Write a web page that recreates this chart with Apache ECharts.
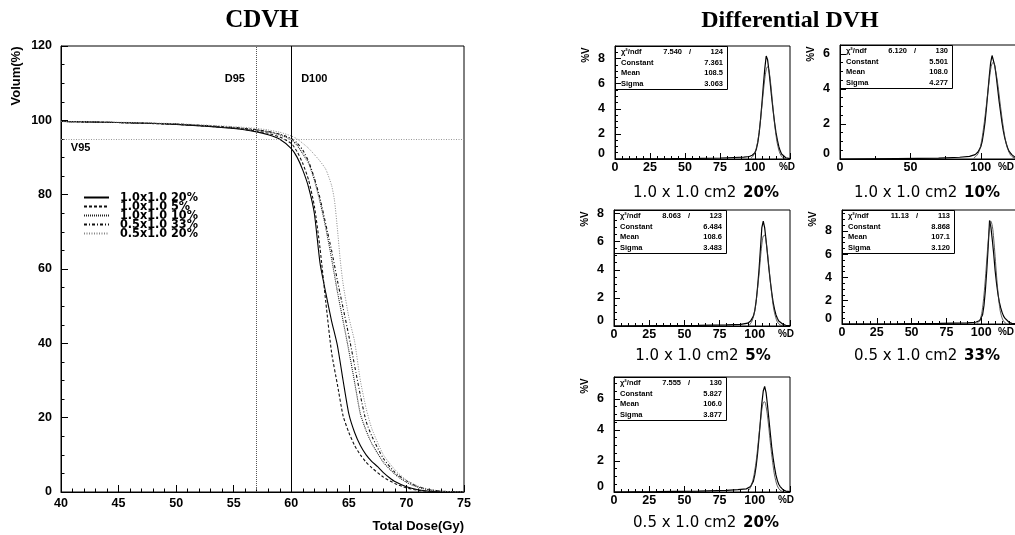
<!DOCTYPE html>
<html><head><meta charset="utf-8">
<script src="https://cdn.jsdelivr.net/npm/echarts@6/dist/echarts.min.js"></script>
<style>html,body{margin:0;padding:0;background:#fff}#c{width:1015px;height:535px}</style>
</head><body><div id="c"></div>
<script>
// ---------------- CDVH data (dose Gy, volume %) ----------------
const cdvhNames = ['1.0x1.0 20%', '1.0x1.0 5%', '1.0x1.0 10%', '0.5x1.0 33%', '0.5x1.0 20%'];
const cdvh_10x10_20 = [[40,99.7],[45,99.4],[50,98.9],[55,97.8],[57,96.9],[58,96.1],[59,94.9],[60,92.4],[60.5,90.1],[61,86.6],[61.5,82],[62,75],[62.5,61.5],[63,53.5],[63.5,46],[64,39.5],[64.5,30],[65,21],[65.5,16],[66,12.5],[66.5,10],[67,8.2],[67.5,6.8],[68,5.2],[68.5,3.9],[69,2.8],[70,1.4],[71,0.6],[72,0.2],[73,0.05],[75,0]];
const cdvh_10x10_5 = [[40,99.7],[45,99.4],[50,98.9],[55,97.9],[57,97.1],[58,96.5],[59,95.5],[60,93.8],[60.5,91.6],[61,88.4],[61.5,84],[62,77],[62.5,65.5],[63,51],[63.5,37.5],[64,29],[64.5,20.5],[65,16],[65.5,12.5],[66,10],[66.5,8],[67,6.5],[68,4],[69,2.3],[70,1.1],[71,0.45],[72,0.15],[73,0.05],[75,0]];
const cdvh_10x10_10 = [[40,99.7],[45,99.4],[50,99],[55,98],[57,97.4],[58,96.9],[59,96.1],[60,94.8],[60.5,93.3],[61,91],[61.5,88.5],[62,84],[62.5,78],[63,71],[63.5,62.8],[64,54],[64.5,46],[65,38],[65.5,29.5],[66,21],[66.5,16.5],[67,13],[68,8],[69,4.8],[70,2.6],[71,1.3],[72,0.55],[73,0.2],[74,0.05],[75,0]];
const cdvh_05x10_33 = [[40,99.7],[45,99.4],[50,99],[55,98.1],[57,97.5],[58,97],[59,96.3],[60,95.1],[60.5,93.9],[61,92],[61.5,89],[62,84.5],[62.5,79],[63,72],[63.5,65],[64,57],[64.5,49.5],[65,42],[65.5,34],[66,26],[66.5,19],[67,15],[68,9],[69,5.3],[70,3],[71,1.5],[72,0.65],[73,0.25],[74,0.08],[75,0]];
const cdvh_05x10_20 = [[40,99.7],[45,99.5],[50,99.1],[55,98.3],[57,97.8],[58,97.4],[59,96.8],[60,95.8],[60.5,95],[61,93.8],[61.5,92.5],[62,90.8],[62.5,89],[63,86.8],[63.5,82.5],[63.75,78.5],[64,71],[64.25,62.5],[64.5,56],[65,47],[65.5,40.5],[66,30],[66.5,22.5],[67,17],[68,10],[69,6],[70,3.2],[71,1.6],[72,0.7],[73,0.25],[74,0.08],[75,0]];
const cdvhXTicks = [40, 75, 5];   // min, max, step
const cdvhYTicks = [0, 120, 20];
const refD95 = 57, refD100 = 60, refV95 = 95;

// ---------------- Differential DVH data (%D, %V) ----------------
const hist1 = [[0,0],[20,0.02],[40,0.03],[60,0.05],[75,0.08],[85,0.12],[92,0.15],[96,0.2],[98,0.3],[100,0.5],[101,0.8],[102,1.3],[103,2.1],[104,3.2],[105,4.5],[106,5.9],[107,7.2],[108,8.2],[109,7.9],[110,7.0],[111,5.9],[112,4.8],[113,3.8],[114,2.9],[115,2.1],[116,1.5],[117,1.0],[118,0.65],[119,0.4],[120,0.25],[122,0.1],[125,0.03]];
const fit1 = [[97,0.05],[99,0.3],[101,0.9],[103,2.2],[105,4.3],[106,5.4],[107,6.4],[108,7.1],[109,7.35],[110,7.0],[111,6.2],[112,5.1],[113,3.9],[114,2.8],[115,1.9],[116,1.2],[118,0.4],[120,0.1],[122,0.02]];
const hist2 = [[0,0],[40,0.02],[70,0.05],[85,0.1],[92,0.15],[96,0.25],[98,0.4],[100,0.7],[101,1.0],[102,1.5],[103,2.1],[104,2.9],[105,3.8],[106,4.7],[107,5.5],[108,5.9],[109,5.8],[110,5.3],[111,4.7],[112,4.0],[113,3.3],[114,2.7],[115,2.1],[116,1.6],[117,1.2],[118,0.9],[119,0.65],[120,0.45],[122,0.25],[124,0.12],[125,0.08]];
const fit2 = [[95,0.05],[98,0.3],[100,0.8],[102,1.8],[104,3.1],[106,4.5],[107,5.1],[108,5.45],[109,5.5],[110,5.25],[112,4.3],[114,3.0],[116,1.8],[118,0.9],[120,0.4],[122,0.15],[125,0.03]];
const hist3 = [[0,0],[30,0.02],[60,0.04],[80,0.08],[90,0.12],[95,0.2],[97,0.35],[99,0.7],[100,1.1],[101,1.8],[102,2.8],[103,4.0],[104,5.5],[105,7.0],[106,7.45],[107,7.0],[108,6.1],[109,5.1],[110,4.1],[111,3.2],[112,2.4],[113,1.7],[114,1.2],[115,0.8],[116,0.55],[117,0.35],[118,0.25],[120,0.12],[122,0.05],[125,0.02]];
const fit3 = [[96,0.05],[98,0.35],[100,1.1],[101,1.8],[102,2.7],[103,3.7],[104,4.8],[105,5.8],[106,6.4],[107,6.45],[108,6.0],[109,5.2],[110,4.2],[111,3.2],[112,2.3],[113,1.5],[114,0.95],[116,0.3],[118,0.08],[120,0.02]];
const hist4 = [[0,0],[40,0.02],[70,0.05],[90,0.1],[96,0.15],[99,0.3],[101,0.8],[102,1.6],[103,2.9],[104,4.6],[105,6.6],[106,8.9],[107,8.3],[108,7.2],[109,6.0],[110,4.6],[111,3.5],[112,2.6],[113,1.9],[114,1.4],[115,1.0],[116,0.7],[117,0.5],[118,0.35],[120,0.15],[122,0.05],[125,0.02]];
const fit4 = [[97,0.05],[99,0.3],[100,0.7],[101,1.4],[102,2.5],[103,3.9],[104,5.5],[105,7.1],[106,8.3],[106.8,8.85],[108,8.4],[109,7.3],[110,5.8],[111,4.2],[112,2.8],[113,1.7],[114,0.95],[116,0.25],[118,0.05]];
const hist5 = [[0,0],[30,0.02],[60,0.05],[80,0.1],[88,0.15],[94,0.2],[97,0.35],[99,0.7],[100,1.1],[101,1.7],[102,2.5],[103,3.5],[104,4.6],[105,5.7],[106,6.5],[107,6.8],[108,6.4],[109,5.6],[110,4.7],[111,3.8],[112,2.9],[113,2.2],[114,1.6],[115,1.1],[116,0.75],[117,0.5],[118,0.35],[120,0.15],[122,0.06],[125,0.02]];
const fit5 = [[95,0.05],[97,0.3],[99,0.9],[100,1.4],[101,2.0],[102,2.8],[103,3.7],[104,4.5],[105,5.3],[106,5.75],[107,5.8],[108,5.5],[109,4.9],[110,4.1],[111,3.2],[112,2.4],[113,1.7],[114,1.1],[116,0.4],[118,0.12],[120,0.03]];
const panelYMax = [9, 6.5, 8.25, 9.8, 7.4];
const panelXStep = [25, 50, 25, 25, 25];
const panelXMax = 125;
const panelCaptions = [['1.0 x 1.0 cm2', '20%'], ['1.0 x 1.0 cm2', '10%'], ['1.0 x 1.0 cm2', '5%'], ['0.5 x 1.0 cm2', '33%'], ['0.5 x 1.0 cm2', '20%']];
const statChi = ['7.540', '6.120', '8.063', '11.13', '7.555'];
const statNdf = ['124', '130', '123', '113', '130'];
const statConst = ['7.361', '5.501', '6.484', '8.868', '5.827'];
const statMean = ['108.5', '108.0', '108.6', '107.1', '106.0'];
const statSigma = ['3.063', '4.277', '3.483', '3.120', '3.877'];

// ---------------- layout & styles ----------------
const SANS = '"Liberation Sans", Arial, sans-serif';
const WIDE = '"DejaVu Sans", "Liberation Sans", sans-serif';
const COND = '"DejaVu Sans Condensed", "Liberation Sans Narrow", "Liberation Sans", sans-serif';
const cdvhGrid = {left: 61, top: 46, width: 403, height: 446};
const panelLayout = [
  {left: 615, top: 46, width: 175, height: 113, cap: [706, 193], dx: 172},
  {left: 840, top: 45, width: 176, height: 114, cap: [927, 193], dx: 166},
  {left: 614, top: 210, width: 176, height: 116, cap: [703, 356], dx: 172},
  {left: 842, top: 210, width: 174, height: 114, cap: [927, 356], dx: 164},
  {left: 614, top: 377, width: 176, height: 115, cap: [706, 523], dx: 172}
];
const cdvhStyles = [
  {color: '#000', type: 'solid', width: 1.1},
  {color: '#111', type: [3, 2], width: 1.1},
  {color: '#222', type: [1, 1], width: 1.1},
  {color: '#111', type: [3, 2, 1, 2], width: 1.1},
  {color: '#888', type: [1, 1.5], width: 1}
];
const cdvhSeriesData = [cdvh_10x10_20, cdvh_10x10_5, cdvh_10x10_10, cdvh_05x10_33, cdvh_05x10_20];
const hists = [hist1, hist2, hist3, hist4, hist5];
const fits = [fit1, fit2, fit3, fit4, fit5];

const chart = echarts.init(document.getElementById('c'), null, {renderer: 'canvas'});

const grids = [Object.assign({show: true, borderColor: '#000', borderWidth: 1, outerBoundsMode: 'none', containLabel: false}, cdvhGrid)];
panelLayout.forEach(p => grids.push({show: true, borderColor: '#000', borderWidth: 1, outerBoundsMode: 'none', containLabel: false,
  left: p.left, top: p.top, width: p.width, height: p.height}));

const lbl = (size, margin) => ({color: '#000', fontFamily: SANS, fontWeight: 'bold', fontSize: size, margin: margin});
const xAxes = [{
  gridIndex: 0, type: 'value', min: cdvhXTicks[0], max: cdvhXTicks[1], interval: cdvhXTicks[2],
  axisLine: {show: true, onZero: false, lineStyle: {color: '#000', width: 1}},
  axisTick: {show: true, inside: true, length: 7, lineStyle: {color: '#000'}},
  minorTick: {show: true, splitNumber: 5, length: 3.5, lineStyle: {color: '#000'}},
  splitLine: {show: false}, minorSplitLine: {show: false},
  axisLabel: lbl(12.5, 5)
}];
const yAxes = [{
  gridIndex: 0, type: 'value', min: cdvhYTicks[0], max: cdvhYTicks[1], interval: cdvhYTicks[2],
  axisLine: {show: true, onZero: false, lineStyle: {color: '#000', width: 1}},
  axisTick: {show: true, inside: true, length: 7, lineStyle: {color: '#000'}},
  minorTick: {show: true, splitNumber: 4, length: 3.5, lineStyle: {color: '#000'}},
  splitLine: {show: false}, minorSplitLine: {show: false},
  axisLabel: lbl(12.5, 9)
}];
panelLayout.forEach((p, i) => {
  xAxes.push({
    gridIndex: i + 1, type: 'value', min: 0, max: panelXMax, interval: panelXStep[i],
    axisLine: {show: true, onZero: false, lineStyle: {color: '#000', width: 1}},
    axisTick: {show: true, inside: true, length: 6, lineStyle: {color: '#000'}},
    minorTick: {show: true, splitNumber: panelXStep[i] === 50 ? 2 : 5, length: 3, lineStyle: {color: '#000'}},
    splitLine: {show: false}, minorSplitLine: {show: false},
    axisLabel: Object.assign(lbl(12.5, 2), {showMaxLabel: false})
  });
  yAxes.push({
    gridIndex: i + 1, type: 'value', min: 0, max: panelYMax[i], interval: 2,
    axisLine: {show: true, onZero: false, lineStyle: {color: '#000', width: 1}},
    axisTick: {show: true, inside: true, length: 6, lineStyle: {color: '#000'}},
    minorTick: {show: true, splitNumber: 4, length: 3, lineStyle: {color: '#000'}},
    splitLine: {show: false}, minorSplitLine: {show: false},
    axisLabel: Object.assign(lbl(12.5, 10), {showMaxLabel: false,
      formatter: v => v === 0 ? '{z|0}' : (Math.abs(v % 2) < 1e-9 ? String(v) : ''),
      rich: {z: {fontFamily: SANS, fontWeight: 'bold', fontSize: 12.5, color: '#000', padding: [0, 0, 10, 0]}}})
  });
});

const series = [];
cdvhSeriesData.forEach((d, i) => {
  const s = {
    name: cdvhNames[i], type: 'line', xAxisIndex: 0, yAxisIndex: 0, data: d,
    symbol: 'none', showSymbol: false, smooth: 0.2, lineStyle: cdvhStyles[i], itemStyle: {color: cdvhStyles[i].color},
    silent: true, z: 3
  };
  if (i === 0) {
    s.markLine = {
      silent: true, symbol: ['none', 'none'], label: {show: false}, animation: false,
      data: [
        {xAxis: refD95, lineStyle: {color: '#555', type: [1, 1], width: 1}},
        {xAxis: refD100, lineStyle: {color: '#000', type: 'solid', width: 1}},
        {yAxis: refV95, lineStyle: {color: '#999', type: [1, 1.5], width: 1}}
      ]
    };
  }
  series.push(s);
});
hists.forEach((h, i) => {
  series.push({type: 'line', xAxisIndex: i + 1, yAxisIndex: i + 1, data: h, symbol: 'none', showSymbol: false,
    lineStyle: {color: '#000', width: 1.2}, silent: true, z: 3});
  series.push({type: 'line', xAxisIndex: i + 1, yAxisIndex: i + 1, data: fits[i], symbol: 'none', showSymbol: false,
    smooth: 0.4, lineStyle: {color: '#333', width: 0.8}, silent: true, z: 4});
});

chart.setOption({
  animation: false,
  backgroundColor: '#fff',
  grid: grids, xAxis: xAxes, yAxis: yAxes, series: series,
  legend: {
    data: cdvhNames,
    orient: 'vertical', left: 83, top: 191, itemWidth: 25, itemHeight: 8, itemGap: -4,
    selectedMode: false, padding: 0,
    itemStyle: {opacity: 0, borderWidth: 0},
    textStyle: {fontFamily: COND, fontWeight: 'bold', fontSize: 12.5, color: '#000', lineHeight: 9, padding: [0, 0, 0, 6]}
  }
});

// ---------------- text annotations ----------------
const T = (x, y, text, font, extra) => Object.assign({type: 'text', x: x, y: y, silent: true,
  style: {text: text, font: font, fill: '#000', align: 'center', verticalAlign: 'middle'}}, extra || {});
const g = [];
g.push(T(262, 21, 'CDVH', 'bold 25px "Liberation Serif", serif'));
g.push(T(790, 21, 'Differential DVH', 'bold 24px "Liberation Serif", serif'));
g.push(T(16, 76, 'Volum(%)', 'bold 13px ' + SANS, {rotation: Math.PI / 2}));
const tName = T(464, 526, 'Total Dose(Gy)', 'bold 13px ' + SANS);
tName.style.align = 'right';
g.push(tName);
const pD95 = chart.convertToPixel({gridIndex: 0}, [55.1, 111.1]);
const pD100 = chart.convertToPixel({gridIndex: 0}, [62.0, 111.1]);
const pV95 = chart.convertToPixel({gridIndex: 0}, [41.7, 92.6]);
g.push(T(pD95[0], pD95[1], 'D95', 'bold 11px ' + SANS));
g.push(T(pD100[0], pD100[1], 'D100', 'bold 11px ' + SANS));
g.push(T(pV95[0], pV95[1], 'V95', 'bold 11px ' + SANS));

const SF = 'bold 7.5px ' + SANS;
panelLayout.forEach((p, i) => {
  const L = p.left, TOP = p.top;
  g.push({type: 'rect', silent: true, shape: {x: L + 0.5, y: TOP + 0.5, width: 112, height: 43},
    style: {fill: 'none', stroke: '#000', lineWidth: 1}});
  const rows = [TOP + 6, TOP + 16.5, TOP + 27, TOP + 37.5];
  const labs = ['χ²/ndf', 'Constant', 'Mean', 'Sigma'];
  labs.forEach((t, r) => { const e = T(L + 6, rows[r], t, SF); e.style.align = 'left'; g.push(e); });
  let e = T(L + 67, rows[0], statChi[i], SF); e.style.align = 'right'; g.push(e);
  g.push(T(L + 75, rows[0], '/', SF));
  e = T(L + 108, rows[0], statNdf[i], SF); e.style.align = 'right'; g.push(e);
  [statConst[i], statMean[i], statSigma[i]].forEach((v, r) => {
    const t = T(L + 108, rows[r + 1], v, SF); t.style.align = 'right'; g.push(t);
  });
  g.push(T(L - 29, TOP + 9, '%V', 'bold 10px ' + SANS, {rotation: Math.PI / 2}));
  g.push(T(L + p.dx, TOP + p.height + 8, '%D', 'bold 10px ' + SANS));
  g.push({type: 'text', x: p.cap[0], y: p.cap[1], silent: true, style: {
    text: '{n|' + panelCaptions[i][0] + '}  {b|' + panelCaptions[i][1] + '}',
    align: 'center', verticalAlign: 'middle', fill: '#000',
    rich: {n: {fontFamily: WIDE, fontSize: 15, fill: '#000', color: '#000'},
           b: {fontFamily: WIDE, fontSize: 15, fontWeight: 'bold', fill: '#000', color: '#000'}}
  }});
});
chart.setOption({graphic: {elements: g}});
</script></body></html>
